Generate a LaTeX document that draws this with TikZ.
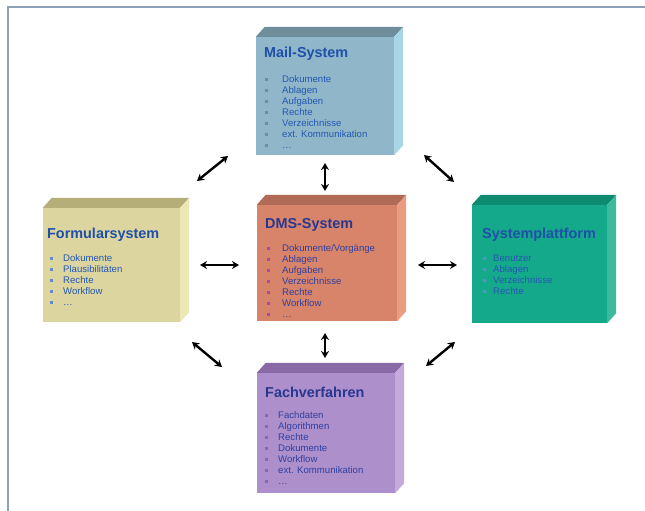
\documentclass[tikz,border=0pt]{standalone}
\usepackage{fontspec}
\setmainfont{Liberation Sans}
\usetikzlibrary{arrows.meta}

% face colours of the five blocks (front / top / side)
\definecolor{mailF}{HTML}{90B6CA}\definecolor{mailT}{HTML}{6E8E9C}\definecolor{mailS}{HTML}{A8D6E6}
\definecolor{dmsF}{HTML}{D8846A}\definecolor{dmsT}{HTML}{B06A55}\definecolor{dmsS}{HTML}{E99C82}
\definecolor{formF}{HTML}{DCD5A0}\definecolor{formT}{HTML}{B6AE78}\definecolor{formS}{HTML}{EDE7B6}
\definecolor{sysF}{HTML}{14A98B}\definecolor{sysT}{HTML}{0E8A70}\definecolor{sysS}{HTML}{3DBA9E}
\definecolor{fachF}{HTML}{AC8FCB}\definecolor{fachT}{HTML}{8A6AA6}\definecolor{fachS}{HTML}{C5AADD}
% text colours
\definecolor{blueT}{HTML}{1F50A8}\definecolor{navyT}{HTML}{283890}
\definecolor{blueI}{HTML}{2458B0}\definecolor{navyI}{HTML}{3040A0}
\definecolor{frameC}{HTML}{8CA0B8}

% one bulleted column: prefix, bullet x, text x, first line y, bullet colour, text colour, items
\newcommand\itemcol[7]{%
  \foreach \t [count=\i] in {#7}{%
    \node[bul, fill=#5] (#1b\i) at ({#2},{#4+(\i-1)*11}) {};
    \node[itm, text=#6, anchor=base west] (#1i\i) at ({#3},{#4+3.4+(\i-1)*11}) {\t};
  }%
}
% the top and side faces of a block behind its front face node
\newcommand\blockfaces[3]{%
  \fill[#2] (#1.north west) -- ++(9pt,10pt) -- ([shift={(9pt,10pt)}]#1.north east) -- (#1.north east) -- cycle;
  \fill[#3] (#1.north east) -- ++(9pt,10pt) -- ([shift={(9pt,10pt)}]#1.south east) -- (#1.south east) -- cycle;
}

\begin{document}
\begin{tikzpicture}[x=1pt,y=-1pt,
  face/.style={rectangle, draw=none, inner sep=0pt},
  ttl/.style={font=\fontsize{14.4}{16}\selectfont\bfseries, inner sep=0pt},
  itm/.style={font=\fontsize{9.6}{10}\selectfont, inner sep=0pt},
  bul/.style={rectangle, inner sep=0pt, minimum size=3pt},
  dbl/.style={line width=2.4pt, {Stealth[length=7pt,width=8pt]}-{Stealth[length=7pt,width=8pt]}}]
\useasboundingbox (0,0) rectangle (645,511);
\fill[white] (0,0) rectangle (645,511);
\draw[frameC, line width=2pt] (8,511) -- (8,7) -- (645,7);

% front faces
\node[face, fill=mailF, minimum width=138pt, minimum height=118pt] (mail) at (325,96) {};
\node[face, fill=dmsF,  minimum width=140pt, minimum height=116pt] (dms)  at (327,263) {};
\node[face, fill=formF, minimum width=137pt, minimum height=114pt] (form) at (111.5,265) {};
\node[face, fill=sysF,  minimum width=135pt, minimum height=118pt] (sys)  at (539.5,264) {};
\node[face, fill=fachF, minimum width=138pt, minimum height=120pt] (fach) at (326,433) {};

\blockfaces{mail}{mailT}{mailS}
\blockfaces{dms}{dmsT}{dmsS}
\blockfaces{form}{formT}{formS}
\blockfaces{sys}{sysT}{sysS}
\blockfaces{fach}{fachT}{fachS}

% titles
\node[ttl, text=blueT, anchor=base west] (mailH) at (264,58) {Mail-System};
\node[ttl, text=navyT, anchor=base west] (dmsH)  at (265,228) {DMS-System};
\node[ttl, text=blueT, anchor=base west] (formH) at (47,238) {Formularsystem};
\node[ttl, text=blueT, anchor=base west] (sysH)  at (482,238) {Systemplattform};
\node[ttl, text=navyT, anchor=base west] (fachH) at (265,397) {Fachverfahren};

% item lists
\itemcol{mail}{266}{282}{79}{mailT}{blueI}{Dokumente,Ablagen,Aufgaben,Rechte,Verzeichnisse,ext. Kommunikation,\ldots}
\itemcol{dms}{268}{282}{248}{violet!70}{navyI}{Dokumente/Vorgänge,Ablagen,Aufgaben,Verzeichnisse,Rechte,Workflow,\ldots}
\itemcol{form}{51}{63}{258}{blueI!70}{blueI}{Dokumente,Plausibilitäten,Rechte,Workflow,\ldots}
\itemcol{sys}{484}{493}{258}{blueI!70}{blueI}{Benutzer,Ablagen,Verzeichnisse,Rechte}
\itemcol{fach}{266}{278}{415}{fachT}{navyI}{Fachdaten,Algorithmen,Rechte,Dokumente,Workflow,ext. Kommunikation,\ldots}

% connector end points
\coordinate (mdA) at (325,163); \coordinate (mdB) at (325,191);
\coordinate (dfA) at (325,333); \coordinate (dfB) at (325,358);
\coordinate (fdA) at (200,265); \coordinate (fdB) at (239,265);
\coordinate (dsA) at (418,265); \coordinate (dsB) at (457,265);
\coordinate (tlA) at (197,181); \coordinate (tlB) at (228,156);
\coordinate (trA) at (424,155); \coordinate (trB) at (454,182);
\coordinate (blA) at (192,342); \coordinate (blB) at (222,367);
\coordinate (brA) at (426,366); \coordinate (brB) at (455,342);

\draw[dbl] (mdA) -- (mdB);
\draw[dbl] (dfA) -- (dfB);
\draw[dbl] (fdA) -- (fdB);
\draw[dbl] (dsA) -- (dsB);
\draw[dbl] (tlA) -- (tlB);
\draw[dbl] (trA) -- (trB);
\draw[dbl] (blA) -- (blB);
\draw[dbl] (brA) -- (brB);
\end{tikzpicture}
\end{document}
